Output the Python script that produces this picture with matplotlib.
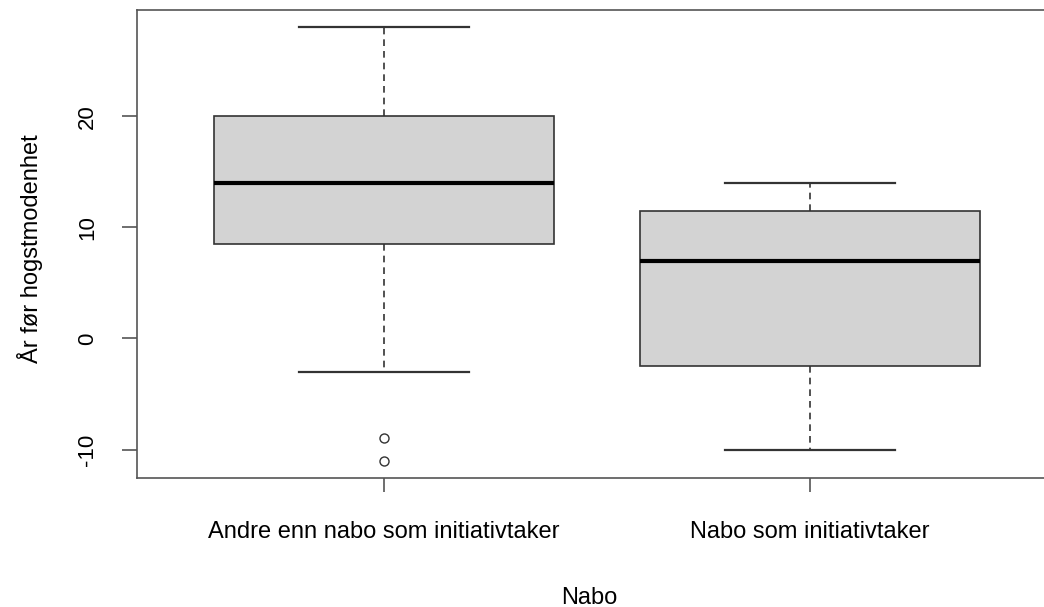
import matplotlib.pyplot as plt

plt.rcParams['font.family'] = ['Liberation Sans', 'DejaVu Sans']
plt.rcParams['axes.unicode_minus'] = False

# five-number summaries per group
groups = ["Andre enn nabo som initiativtaker", "Nabo som initiativtaker"]
whislo = [-3, -10]
q1 = [8.5, -2.5]
med = [14, 7]
q3 = [20, 11.5]
whishi = [28, 14]
fliers = [[-9, -11], []]

stats = []
for i in range(len(groups)):
    stats.append(dict(label=groups[i], whislo=whislo[i], q1=q1[i], med=med[i],
                      q3=q3[i], whishi=whishi[i], fliers=fliers[i]))

fig = plt.figure(figsize=(10.44, 6.07), dpi=100)
# R-style plot region, right side runs off the canvas
ax = fig.add_axes([137 / 1044, 1 - 478 / 607, 920 / 1044, 468 / 607])

edge = '#333333'
ax.bxp(stats, positions=[1, 2], widths=0.8, capwidths=0.4, patch_artist=True,
       boxprops=dict(facecolor='#d3d3d3', edgecolor=edge, linewidth=1.2),
       medianprops=dict(color='black', linewidth=3, solid_capstyle='butt'),
       whiskerprops=dict(color=edge, linewidth=1.2, linestyle=(0, (4, 3))),
       capprops=dict(color=edge, linewidth=1.6),
       flierprops=dict(marker='o', markersize=6.5, markerfacecolor='none',
                       markeredgecolor=edge, markeredgewidth=1.0))

ax.set_xlim(0.42, 2.58)
ax.set_ylim(-12.56, 29.56)
ax.set_yticks([-10, 0, 10, 20])
ax.set_xticks([1, 2])
ax.set_xticklabels(groups)

ax.spines['right'].set_visible(False)
for side in ['left', 'top', 'bottom']:
    ax.spines[side].set_color('#555555')
    ax.spines[side].set_linewidth(1.2)

ax.tick_params(axis='y', length=11, width=1.2, color='#555555', labelsize=16,
               pad=17, labelrotation=90)
for lab in ax.get_yticklabels():
    lab.set_va('center')
ax.tick_params(axis='x', length=10, width=1.2, color='#555555', labelsize=17, pad=21)

fig.text(30 / 1044, 1 - 249 / 607, "År før hogstmodenhet", rotation=90,
         ha='center', va='center', fontsize=17)
fig.text(589 / 1044, 1 - 598 / 607, "Nabo", ha='center', va='center', fontsize=17)

fig.savefig("out.png", dpi=100)
